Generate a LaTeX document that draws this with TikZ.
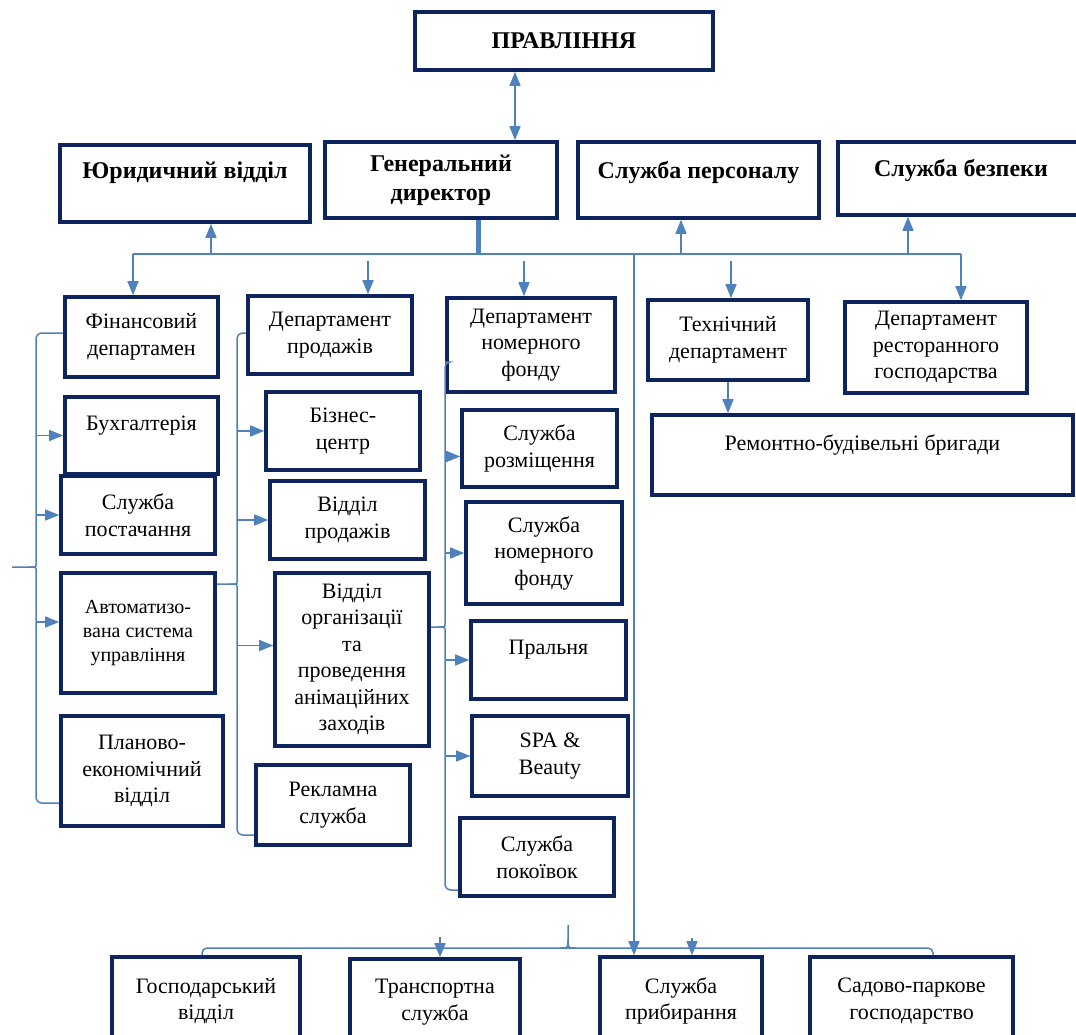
\documentclass[tikz,border=0pt]{standalone}
\usepackage{fontspec}
\setmainfont{Liberation Serif}
\usetikzlibrary{arrows.meta}

\definecolor{boxnavy}{RGB}{14,36,94}
\definecolor{linkblue}{RGB}{79,129,189}

\tikzset{
  unit/.style={draw=boxnavy, line width=3.6pt, align=center, inner sep=2pt,
    font=\fontsize{22}{26.5}\selectfont},
  head/.style={unit, font=\bfseries\fontsize{24}{29}\selectfont},
  lift/.style={text depth=#1},
  link/.style={draw=linkblue, line width=1.5pt},
  arr/.style={link, -{Triangle[length=14pt,width=11pt]}},
  arrboth/.style={link, {Triangle[length=14pt,width=11pt]}-{Triangle[length=14pt,width=11pt]}},
}

\begin{document}
\begin{tikzpicture}[x=1pt, y=-1pt]
  \useasboundingbox (0,0) rectangle (1076,1035);

  % top level
  \node[head, minimum width=298, minimum height=58] (prav) at (564,41) {ПРАВЛІННЯ};
  \node[head, lift=27pt, minimum width=250, minimum height=77] (jur) at (185,183.5) {Юридичний відділ};
  \node[head, minimum width=232, minimum height=76] (gen) at (441,180) {Генеральний\\директор};
  \node[head, lift=21pt, minimum width=241, minimum height=76] (pers) at (698.5,180) {Служба персоналу};
  \node[head, lift=21pt, minimum width=246, minimum height=73] (bezp) at (961,178.5) {Служба безпеки};

  % departments
  \node[unit, minimum width=153, minimum height=80] (fin) at (141.5,337) {Фінансовий\\департамен};
  \node[unit, minimum width=164, minimum height=78] (dprod) at (330,335) {Департамент\\продажів};
  \node[unit, minimum width=168, minimum height=94] (dnf) at (531,345) {Департамент\\номерного\\фонду};
  \node[unit, minimum width=160, minimum height=80] (tech) at (728,340) {Технічний\\департамент};
  \node[unit, minimum width=182, minimum height=91] (rest) at (936,347.5) {Департамент\\ресторанного\\господарства};
  \node[unit, lift=25pt, minimum width=421, minimum height=80] (rem) at (862.5,455) {Ремонтно-будівельні бригади};

  % finance column
  \node[unit, lift=25pt, minimum width=153, minimum height=77] (buh) at (141.5,435.5) {Бухгалтерія};
  \node[unit, minimum width=154, minimum height=78] (post) at (138,515) {Служба\\постачання};
  \node[unit, minimum width=154, minimum height=120, font=\fontsize{20}{24}\selectfont] (asu) at (138,633) {Автоматизо-\\вана система\\управління};
  \node[unit, minimum width=162, minimum height=110] (plan) at (142,771) {Планово-\\економічний\\відділ};

  % sales column
  \node[unit, minimum width=154, minimum height=78] (biz) at (343,431) {Бізнес-\\центр};
  \node[unit, minimum width=155, minimum height=78] (vprod) at (347.5,520) {Відділ\\продажів};
  \node[unit, minimum width=154, minimum height=173] (anim) at (352,659.5) {Відділ\\організації\\та\\проведення\\анімаційних\\заходів};
  \node[unit, minimum width=154, minimum height=80] (rekl) at (333,805) {Рекламна\\служба};

  % rooms column
  \node[unit, minimum width=155, minimum height=77] (rozm) at (539.5,448.5) {Служба\\розміщення};
  \node[unit, minimum width=156, minimum height=102] (snf) at (544,553) {Служба\\номерного\\фонду};
  \node[unit, lift=25pt, minimum width=155, minimum height=78] (pral) at (548.5,660) {Пральня};
  \node[unit, minimum width=156, minimum height=80] (spa) at (550,756) {SPA \&\\Beauty};
  \node[unit, minimum width=154, minimum height=78] (pok) at (537,857) {Служба\\покоївок};

  % bottom row
  \node[unit, minimum width=188, minimum height=88] (gosp) at (206,1001) {Господарський\\відділ};
  \node[unit, minimum width=170, minimum height=86] (trans) at (435,1002) {Транспортна\\служба};
  \node[unit, minimum width=162, minimum height=88] (prib) at (681,1001) {Служба\\прибирання};
  \node[unit, minimum width=203, minimum height=88] (sad) at (911.5,1001) {Садово-паркове\\господарство};

  % main bus
  \coordinate (pg) at (515,0);
  \coordinate (busW) at (133,254);
  \coordinate (busE) at (961,254);
  \coordinate (bg) at (478,254);
  \coordinate (bj) at (211,254);
  \coordinate (bs) at (368,261);
  \coordinate (bn) at (524,261);
  \coordinate (bv) at (634,254);
  \coordinate (bp) at (681,254);
  \coordinate (bt) at (731,261);
  \coordinate (bz) at (908,254);

  \draw[arrboth] (prav.south -| pg) -- (gen.north -| pg);
  \draw[link, line width=5pt] (bg |- gen.south) -- (bg);
  \draw[link] (busW) -- (busE);
  \draw[arr] (busW) -- (busW |- fin.north);
  \draw[arr] (busE) -- (busE |- rest.north);
  \draw[arr] (bj) -- (bj |- jur.south);
  \draw[arr] (bp) -- (bp |- pers.south);
  \draw[arr] (bz) -- (bz |- bezp.south);
  \draw[arr] (bs) -- (bs |- dprod.north);
  \draw[arr] (bn) -- (bn |- dnf.north);
  \draw[arr] (bt) -- (bt |- tech.north);
  \draw[arr] (bv) -- (bv |- prib.north);
  \draw[arr] (tech.south) -- (tech.south |- rem.north);

  % brace of the finance column
  \coordinate (bA) at (36,567);
  \draw[link, rounded corners=6pt] ([yshift=4pt]fin.west) -- (36,333) -- (36,559) .. controls (36,567) .. (28,567) -- (12,567);
  \draw[link, rounded corners=6pt] ([yshift=-32pt]plan.west) -- (36,803) -- (36,575) .. controls (36,567) .. (28,567);
  \draw[arr] (buh.west -| bA) -- (buh.west);
  \draw[arr] (post.west -| bA) -- (post.west);
  \draw[arr] ([yshift=11pt]asu.west -| bA) -- ([yshift=11pt]asu.west);

  % brace of the sales column
  \coordinate (bB) at (237,584);
  \draw[link, rounded corners=6pt] ([yshift=2pt]dprod.west) -- (237,333) -- (237,576) .. controls (237,584) .. (229,584) -- (asu.east |- bB);
  \draw[link, rounded corners=6pt] ([yshift=-30pt]rekl.west) -- (237,835) -- (237,592) .. controls (237,584) .. (229,584);
  \draw[arr] (biz.west -| bB) -- (biz.west);
  \draw[arr] (vprod.west -| bB) -- (vprod.west);
  \draw[arr] ([yshift=14pt]anim.west -| bB) -- ([yshift=14pt]anim.west);

  % brace of the rooms column
  \coordinate (bC) at (445,627);
  \draw[link, rounded corners=5pt] ([yshift=-17pt]dnf.west) -- (445,362) -- (445,619) .. controls (445,627) .. (437,627) -- (anim.east |- bC);
  \draw[link, rounded corners=6pt] ([yshift=-33pt]pok.west) -- (445,890) -- (445,635) .. controls (445,627) .. (437,627);
  \draw[arr] ([yshift=-8pt]rozm.west -| bC) -- ([yshift=-8pt]rozm.west);
  \draw[arr] (snf.west -| bC) -- (snf.west);
  \draw[arr] (pral.west -| bC) -- (pral.west);
  \draw[arr] (spa.west -| bC) -- (spa.west);

  % bottom bus
  \coordinate (bbL) at (202,948);
  \coordinate (bbR) at (933,948);
  \coordinate (bbT) at (440,937);
  \coordinate (bbP) at (692,938);
  \draw[link, rounded corners=5pt] (gosp.north -| bbL) -- (bbL) -- (bbR) -- (sad.north -| bbR);
  \draw[link] (560,948) .. controls (568,948) .. (568,940) -- (568,925);
  \draw[link] (576,948) .. controls (568,948) .. (568,940);
  \draw[arr] (bbT) -- (bbT |- trans.north);
  \draw[arr] (bbP) -- (bbP |- prib.north);
\end{tikzpicture}
\end{document}
